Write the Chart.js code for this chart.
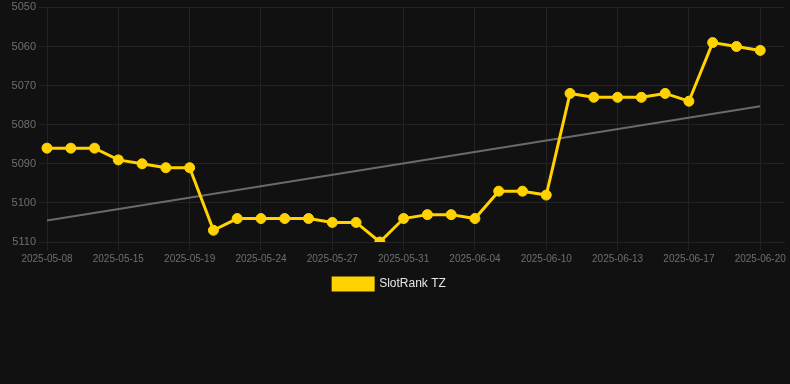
<!DOCTYPE html>
<html>
<head>
<meta charset="utf-8">
<script src="https://cdn.jsdelivr.net/npm/chart.js@4"></script>
<style>
    html, body { margin: 0; padding: 0; background: #111111; overflow: hidden; }
    .chart-container { position: relative; margin-left: -6px; width: 796px; height: 300px; }
</style>
</head>
<body>
<div class="chart-container">
    <canvas id="rankChart"></canvas>
</div>
<script>
// one category per snapshot; the last one has no reading yet
const dates = [
    '2025-05-08', '2025-05-10', '2025-05-12', '2025-05-15', '2025-05-16', '2025-05-17',
    '2025-05-19', '2025-05-21', '2025-05-22', '2025-05-24', '2025-05-25', '2025-05-26',
    '2025-05-27', '2025-05-28', '2025-05-29', '2025-05-31', '2025-06-01', '2025-06-02',
    '2025-06-04', '2025-06-06', '2025-06-08', '2025-06-10', '2025-06-11', '2025-06-12',
    '2025-06-13', '2025-06-14', '2025-06-16', '2025-06-17', '2025-06-18', '2025-06-19',
    '2025-06-20', '2025-06-21',
];

const ranks = [
    5086, 5086, 5086, 5089, 5090, 5091,
    5091, 5107, 5104, 5104, 5104, 5104,
    5105, 5105, 5110, 5104, 5103, 5103,
    5104, 5097, 5097, 5098, 5072, 5073,
    5073, 5073, 5072, 5074, 5059, 5060,
    5061,
];

// trend line at its two ends
const trendStart = 5104.5;
const trendEnd = 5075.3;
const trend = ranks.map((v, i) => i === 0 ? trendStart : (i === ranks.length - 1 ? trendEnd : null));

const yTicks = [5050, 5060, 5070, 5080, 5090, 5100, 5110];

const yellow = '#FFD200';
const gridColor = '#232323';
const tickColor = '#6f6f6f';

const ctx = document.getElementById('rankChart').getContext('2d');
new Chart(ctx, {
    type: 'line',
    data: {
        labels: dates,
        datasets: [{
            label: 'SlotRank TZ',
            data: ranks,
            borderColor: yellow,
            backgroundColor: yellow,
            borderWidth: 3,
            pointRadius: 5,
            pointBorderWidth: 1,
            pointBackgroundColor: yellow,
            pointBorderColor: yellow,
            tension: 0,
        }, {
            label: 'trend',
            data: trend,
            borderColor: '#6a6a6a',
            borderWidth: 2,
            pointRadius: 0,
            spanGaps: true,
            tension: 0,
        }]
    },
    options: {
        responsive: true,
        maintainAspectRatio: false,
        animation: false,
        layout: {
            padding: { left: 0, top: 0, right: 5, bottom: 0 },
        },
        scales: {
            x: {
                offset: false,
                grid: { color: gridColor, tickLength: 8 },
                border: { color: gridColor },
                ticks: {
                    color: tickColor,
                    font: { size: 10 },
                    maxRotation: 0,
                    autoSkip: true,
                },
            },
            y: {
                reverse: true,
                min: yTicks[0],
                max: yTicks[yTicks.length - 1],
                grid: { color: gridColor, tickLength: 8 },
                border: { color: gridColor },
                afterBuildTicks: axis => {
                    axis.ticks = yTicks.map(v => ({ value: v }));
                },
                afterFit: axis => {
                    axis.width = 53;
                },
                ticks: {
                    color: tickColor,
                    font: { size: 11, lineHeight: 0.8 },
                    callback: value => String(value),
                },
            },
        },
        plugins: {
            legend: {
                position: 'bottom',
                labels: {
                    color: '#e6e6e6',
                    font: { size: 12 },
                    boxWidth: 40,
                    filter: item => item.text !== 'trend',
                },
            },
            tooltip: { enabled: false },
        },
    },
});
</script>
</body>
</html>
